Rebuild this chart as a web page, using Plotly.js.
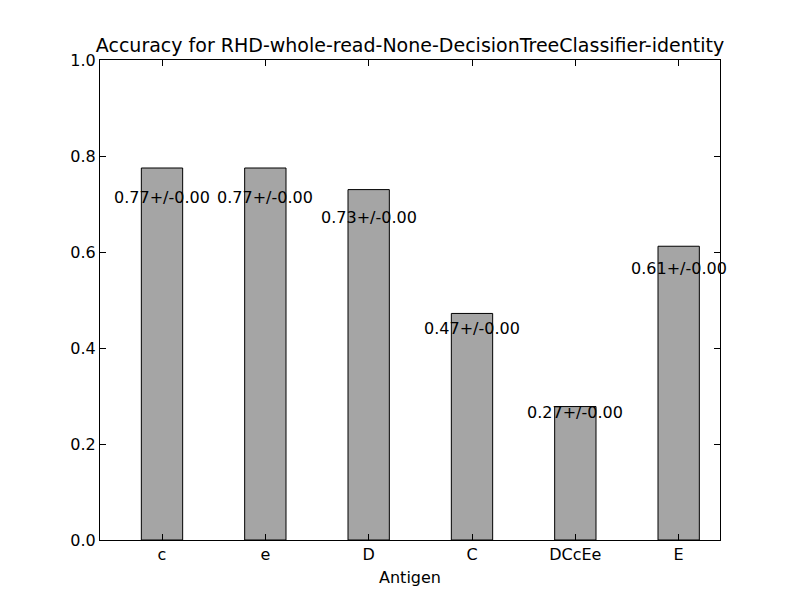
<!DOCTYPE html>
<html>
<head>
<meta charset="utf-8">
<script src="https://cdn.plot.ly/plotly-3.0.1.min.js"></script>
<style>body{margin:0;background:#fff}</style>
</head>
<body>
<div id="chart" style="width:800px;height:600px"></div>
<script>
// accuracy per antigen
const antigens = ['c', 'e', 'D', 'C', 'DCcEe', 'E'];
const accuracy = [0.775, 0.775, 0.73, 0.472, 0.278, 0.612];
const errors = [0.00, 0.00, 0.00, 0.00, 0.00, 0.00];

const xs = antigens.map((a, i) => i);

const bars = {
  type: 'bar',
  x: xs,
  y: accuracy,
  width: 0.4,
  marker: {color: '#a5a5a5', line: {color: '#000', width: 1}},
  hoverinfo: 'none'
};

// labels at 90% of bar height, like ax.text(x, 0.9*h, ...)
const labels = accuracy.map((v, i) => ({
  x: xs[i], y: 0.9 * v,
  text: Math.floor(v * 100) / 100 + '+/-' + errors[i].toFixed(2),
  showarrow: false,
  xanchor: 'center', yanchor: 'bottom', yshift: -4,
  font: {family: 'DejaVu Sans', size: 16, color: '#000'}
}));

const axisBase = {
  showgrid: false, zeroline: false,
  showline: true, linecolor: '#000', linewidth: 1, mirror: 'ticks',
  ticks: 'inside', ticklen: 6, tickcolor: '#000',
  tickfont: {family: 'DejaVu Sans', size: 16, color: '#000'}
};

const layout = {
  width: 800, height: 600,
  margin: {l: 100, r: 80, t: 60, b: 60},
  paper_bgcolor: '#fff', plot_bgcolor: '#fff',
  showlegend: false,
  title: {text: 'Accuracy for RHD-whole-read-None-DecisionTreeClassifier-identity',
    font: {family: 'DejaVu Sans', size: 19, color: '#000'},
    x: 0.5125, xanchor: 'center', y: 0.935, yanchor: 'top'},
  xaxis: Object.assign({}, axisBase, {
    range: [-0.6, 5.4], tickvals: xs, ticktext: antigens,
    title: {text: 'Antigen', font: {family: 'DejaVu Sans', size: 16, color: '#000'}, standoff: 8}
  }),
  yaxis: Object.assign({}, axisBase, {
    range: [0, 1], dtick: 0.2, tickformat: '.1f'
  }),
  annotations: labels
};

Plotly.newPlot('chart', [bars], layout, {staticPlot: true, displayModeBar: false});
</script>
</body>
</html>
